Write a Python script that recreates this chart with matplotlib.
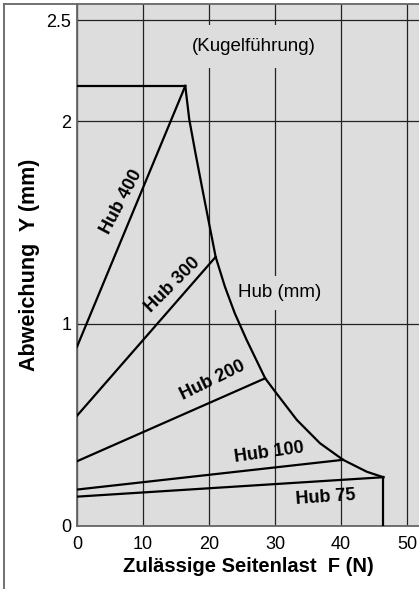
import matplotlib
matplotlib.use("Agg")
from matplotlib import pyplot as plt
from matplotlib.lines import Line2D

plt.rcParams['font.family'] = ['Liberation Sans', 'DejaVu Sans']

# stroke curves (force F in N, deflection Y in mm)
f_400 = [0, 16.4]
y_400 = [0.886, 2.175]
f_300 = [0, 21.0]
y_300 = [0.545, 1.33]
f_200 = [0, 28.5]
y_200 = [0.32, 0.73]
f_100 = [0, 40.3]
y_100 = [0.18, 0.327]
f_75 = [0, 46.4]
y_75 = [0.145, 0.241]

# upper limit for stroke 400
f_cap = [0, 16.4]
y_cap = [2.175, 2.175]

# envelope of the permissible side load
f_env = [16.4, 17.0, 17.9, 18.9, 19.9, 21.0, 22.4, 23.9, 25.7, 28.5, 30.2,
         33.3, 36.8, 40.3, 43.9, 46.4]
y_env = [2.175, 2.01, 1.85, 1.68, 1.513, 1.33, 1.183, 1.051, 0.919, 0.73,
         0.656, 0.524, 0.409, 0.327, 0.268, 0.241]

# end of stroke 75 down to zero
f_end = [46.4, 46.4]
y_end = [0.241, 0]

x_ticks = [0, 10, 20, 30, 40, 50]
y_ticks = [0, 1, 2, 2.5]
y_tick_labels = ['0', '1', '2', '2.5']

bg = '#dddddd'

fig = plt.figure(figsize=(4.19, 5.89), dpi=100)
ax = fig.add_axes([0.1838, 0.107, 1 - 0.1838, 0.8862])
ax.set_facecolor(bg)

lw = 1.6
for fx, fy in [(f_400, y_400), (f_300, y_300), (f_200, y_200), (f_100, y_100),
               (f_75, y_75), (f_cap, y_cap), (f_env, y_env), (f_end, y_end)]:
    ax.plot(fx, fy, color='black', lw=lw, solid_joinstyle='round', zorder=4)

ax.set_xlim(0, 51.8)
ax.set_ylim(0, 2.58)
ax.set_xticks(x_ticks)
ax.set_yticks(y_ticks)
ax.set_yticklabels(y_tick_labels)
ax.tick_params(length=0, labelsize=13)
ax.tick_params(axis='x', pad=7)
ax.tick_params(axis='y', pad=4)
ax.grid(True, color='#222222', lw=0.9)
ax.set_axisbelow(True)

for side in ['top', 'right']:
    ax.spines[side].set_visible(False)
for side in ['left', 'bottom']:
    ax.spines[side].set_color('#666666')
    ax.spines[side].set_linewidth(1.3)

lab = dict(fontsize=13, fontweight='bold', ha='center', va='center', zorder=5)
ax.text(6.8, 1.60, 'Hub 400', rotation=62, **lab)
ax.text(14.5, 1.19, 'Hub 300', rotation=45, **lab)
ax.text(20.6, 0.72, 'Hub 200', rotation=26, **lab)
ax.text(29.1, 0.36, 'Hub 100', rotation=8, **lab)
ax.text(37.6, 0.143, 'Hub 75', rotation=4, **lab)

ax.text(30.7, 1.152, 'Hub (mm)', fontsize=13.5, ha='center', va='center',
        bbox=dict(facecolor=bg, edgecolor='none', pad=6), zorder=3)
ax.text(26.8, 2.37, '(Kugelführung)', fontsize=13.5, ha='center', va='center',
        bbox=dict(facecolor=bg, edgecolor='none', pad=9), zorder=3)

ax.set_xlabel('Zulässige Seitenlast  F (N)', fontsize=14.5, fontweight='bold',
              labelpad=3)
ax.set_ylabel('Abweichung  Y (mm)', fontsize=15.5, fontweight='bold', labelpad=5)

# outer frame on the left and top
fig.add_artist(Line2D([0.0107, 0.0107], [0, 0.9935], color='#666666', lw=1.3,
                      transform=fig.transFigure))
fig.add_artist(Line2D([0.0107, 1.0], [0.9935, 0.9935], color='#666666', lw=1.3,
                      transform=fig.transFigure))

fig.savefig('out.png', dpi=100)
